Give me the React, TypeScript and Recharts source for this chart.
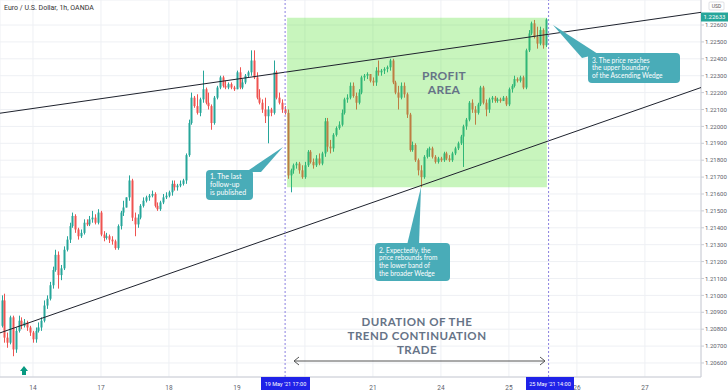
import React from 'react';
import { ComposedChart, Bar, XAxis, YAxis, CartesianGrid, ReferenceArea, ReferenceLine } from 'recharts';

// EUR/USD 1h candles, 13 May 13:00 -> 25 May 13:00 (index = hour bar)
const firstOpen = 1.2082;
const closes = [
  1.2097, 1.2075, 1.2072, 1.2087, 1.2068, 1.2079, 1.2085, 1.2082, 1.2084, 1.2081,
  1.2078, 1.2074, 1.2079, 1.2081, 1.2085, 1.2094, 1.2098, 1.2106, 1.2115, 1.2124,
  1.2112, 1.2116, 1.2127, 1.2133, 1.2141, 1.2147, 1.2139, 1.2135, 1.2137, 1.2143,
  1.2142, 1.2145, 1.2146, 1.2143, 1.2149, 1.2136, 1.2134, 1.2135, 1.2133, 1.2132,
  1.2128, 1.2141, 1.2149, 1.2152, 1.2158, 1.2168, 1.2146, 1.2142, 1.2146, 1.2153,
  1.2156, 1.2158, 1.2159, 1.2160, 1.2153, 1.2151, 1.2155, 1.2158, 1.2159, 1.2161,
  1.2166, 1.2164, 1.2165, 1.2166, 1.2168, 1.2183, 1.2202, 1.2217, 1.2212, 1.2208,
  1.2216, 1.2222, 1.2214, 1.2212, 1.2202, 1.2217, 1.2223, 1.2229, 1.2224, 1.2223,
  1.2225, 1.2223, 1.2222, 1.2232, 1.2223, 1.2226, 1.2230, 1.2232, 1.2239, 1.2229,
  1.2217, 1.2214, 1.2210, 1.2206, 1.2210, 1.2208, 1.2232, 1.2217, 1.2214, 1.2210,
  1.2208, 1.2171, 1.2174, 1.2177, 1.2178, 1.2174, 1.2170, 1.2177, 1.2185, 1.2179,
  1.2177, 1.2181, 1.2178, 1.2184, 1.2203, 1.2188, 1.2187, 1.2195, 1.2199, 1.2201,
  1.2208, 1.2216, 1.2217, 1.2224, 1.2218, 1.2214, 1.2220, 1.2229, 1.2230, 1.2231,
  1.2227, 1.2226, 1.2233, 1.2232, 1.2233, 1.2234, 1.2235, 1.2239, 1.2226, 1.2220,
  1.2217, 1.2224, 1.2219, 1.2207, 1.2186, 1.2189, 1.2180, 1.2174, 1.2170, 1.2182,
  1.2186, 1.2187, 1.2182, 1.2179, 1.2181, 1.2180, 1.2184, 1.2181, 1.2180, 1.2184,
  1.2187, 1.2190, 1.2194, 1.2200, 1.2204, 1.2214, 1.2210, 1.2208, 1.2213, 1.2223,
  1.2214, 1.2210, 1.2216, 1.2217, 1.2215, 1.2216, 1.2215, 1.2217, 1.2213, 1.2222,
  1.2224, 1.2228, 1.2227, 1.2229, 1.2223, 1.2245, 1.2255, 1.2261, 1.2253, 1.2249,
  1.2257, 1.2248, 1.22633,
];
const highs = [
  1.2100, 1.2101, 1.2078, 1.2088, 1.2088, 1.2081, 1.2088, 1.2087, 1.2086, 1.2085,
  1.2082, 1.2079, 1.2081, 1.2084, 1.2087, 1.2097, 1.2100, 1.2108, 1.2117, 1.2127,
  1.2126, 1.2118, 1.2129, 1.2135, 1.2143, 1.2149, 1.2148, 1.2140, 1.2139, 1.2145,
  1.2145, 1.2147, 1.2150, 1.2148, 1.2151, 1.2150, 1.2138, 1.2137, 1.2136, 1.2135,
  1.2133, 1.2142, 1.2150, 1.2156, 1.2158, 1.2171, 1.2169, 1.2149, 1.2148, 1.2154,
  1.2158, 1.2159, 1.2160, 1.2162, 1.2161, 1.2155, 1.2156, 1.2160, 1.2161, 1.2162,
  1.2168, 1.2168, 1.2166, 1.2168, 1.2169, 1.2184, 1.2204, 1.2220, 1.2218, 1.2219,
  1.2217, 1.2233, 1.2223, 1.2220, 1.2213, 1.2218, 1.2224, 1.2230, 1.2230, 1.2227,
  1.2226, 1.2226, 1.2224, 1.2233, 1.2235, 1.2228, 1.2231, 1.2233, 1.2245, 1.2245,
  1.2232, 1.2222, 1.2216, 1.2217, 1.2212, 1.2211, 1.2239, 1.2233, 1.2220, 1.2216,
  1.2212, 1.2210, 1.2175, 1.2178, 1.2179, 1.2179, 1.2177, 1.2179, 1.2186, 1.2186,
  1.2181, 1.2183, 1.2184, 1.2185, 1.2205, 1.2205, 1.2192, 1.2196, 1.2200, 1.2203,
  1.2210, 1.2217, 1.2219, 1.2226, 1.2226, 1.2220, 1.2222, 1.2230, 1.2231, 1.2232,
  1.2231, 1.2229, 1.2235, 1.2239, 1.2234, 1.2235, 1.2236, 1.2240, 1.2240, 1.2227,
  1.2224, 1.2226, 1.2226, 1.2220, 1.2208, 1.2191, 1.2190, 1.2181, 1.2177, 1.2183,
  1.2187, 1.2188, 1.2188, 1.2183, 1.2182, 1.2182, 1.2185, 1.2185, 1.2183, 1.2185,
  1.2188, 1.2191, 1.2195, 1.2201, 1.2205, 1.2215, 1.2216, 1.2212, 1.2214, 1.2224,
  1.2224, 1.2216, 1.2217, 1.2218, 1.2218, 1.2217, 1.2217, 1.2218, 1.2218, 1.2223,
  1.2225, 1.2230, 1.2229, 1.2230, 1.2230, 1.2246, 1.2257, 1.2262, 1.2263, 1.2259,
  1.2259, 1.2258, 1.2264,
];
const lows = [
  1.2081, 1.2072, 1.2069, 1.2071, 1.2064, 1.2066, 1.2078, 1.2080, 1.2081, 1.2079,
  1.2076, 1.2072, 1.2072, 1.2078, 1.2079, 1.2084, 1.2092, 1.2097, 1.2104, 1.2114,
  1.2104, 1.2109, 1.2115, 1.2126, 1.2131, 1.2140, 1.2137, 1.2133, 1.2134, 1.2136,
  1.2141, 1.2141, 1.2143, 1.2142, 1.2142, 1.2135, 1.2132, 1.2133, 1.2131, 1.2130,
  1.2127, 1.2127, 1.2139, 1.2147, 1.2152, 1.2156, 1.2144, 1.2135, 1.2140, 1.2145,
  1.2152, 1.2155, 1.2156, 1.2158, 1.2152, 1.2150, 1.2150, 1.2154, 1.2157, 1.2158,
  1.2159, 1.2162, 1.2162, 1.2164, 1.2165, 1.2166, 1.2182, 1.2201, 1.2211, 1.2207,
  1.2206, 1.2214, 1.2213, 1.2210, 1.2198, 1.2201, 1.2216, 1.2222, 1.2223, 1.2222,
  1.2222, 1.2222, 1.2221, 1.2222, 1.2222, 1.2222, 1.2225, 1.2229, 1.2230, 1.2228,
  1.2216, 1.2213, 1.2208, 1.2202, 1.2190, 1.2206, 1.2207, 1.2216, 1.2213, 1.2208,
  1.2207, 1.2169, 1.2161, 1.2172, 1.2175, 1.2172, 1.2169, 1.2169, 1.2176, 1.2178,
  1.2175, 1.2176, 1.2177, 1.2177, 1.2182, 1.2185, 1.2184, 1.2185, 1.2194, 1.2198,
  1.2200, 1.2207, 1.2214, 1.2216, 1.2217, 1.2210, 1.2213, 1.2219, 1.2227, 1.2228,
  1.2226, 1.2224, 1.2224, 1.2230, 1.2230, 1.2231, 1.2232, 1.2233, 1.2225, 1.2219,
  1.2210, 1.2216, 1.2217, 1.2205, 1.2185, 1.2185, 1.2179, 1.2171, 1.2164, 1.2169,
  1.2181, 1.2182, 1.2181, 1.2178, 1.2178, 1.2179, 1.2179, 1.2180, 1.2179, 1.2179,
  1.2183, 1.2186, 1.2189, 1.2176, 1.2198, 1.2203, 1.2208, 1.2201, 1.2207, 1.2212,
  1.2213, 1.2206, 1.2208, 1.2214, 1.2214, 1.2214, 1.2214, 1.2215, 1.2212, 1.2212,
  1.2220, 1.2223, 1.2226, 1.2226, 1.2222, 1.2222, 1.2244, 1.2254, 1.2252, 1.2246,
  1.2248, 1.2246, 1.2247,
];

const dayTickIndex = [11, 35, 59, 83, 107, 131, 155, 179, 203, 227];
// "20" sits under the 19 May marker box in the reference, so its label is blank
const dayTickLabels = ['14', '17', '18', '19', '', '21', '24', '25', '26', '27'];
const priceTicks = [
  1.206, 1.207, 1.208, 1.209, 1.21, 1.211, 1.212, 1.213, 1.214, 1.215, 1.216,
  1.217, 1.218, 1.219, 1.22, 1.221, 1.222, 1.223, 1.224, 1.225, 1.226,
];
const xDomain = [-0.635, 246.8];
const yDomain = [1.20517, 1.22748];
const upperWedge = [{ x: -0.635, y: 1.22078 }, { x: 246.8, y: 1.22675 }];
const lowerWedge = [{ x: -0.635, y: 1.20778 }, { x: 246.8, y: 1.2223 }];
const entryIndex = 100; // 19 May '21 17:00
const exitIndex = 193; // 25 May '21 14:00
const profitX = [100.7, 192.4];
const profitY = [1.2164, 1.22643];
const lastPrice = 1.22633;

const data = closes.map((c, i) => {
  const open = i === 0 ? firstOpen : closes[i - 1];
  return {
    i,
    open,
    close: c,
    high: Math.max(highs[i], open, c),
    low: Math.min(lows[i], open, c),
  };
});

const UP = '#26a69a';
const DOWN = '#ef5350';
const FONT = 'Roboto, "Noto Sans", sans-serif';
const W = 728;
const H = 391;
const MARGIN = { top: 0, right: 0, bottom: 0, left: 0 };

const Candle = (props: any) => {
  const { x, y, width, height, payload } = props;
  if (!payload || x == null) return null;
  const { open, close, high, low } = payload;
  const color = close >= open ? UP : DOWN;
  const top = Math.min(y, y + height);
  const h = Math.abs(height);
  const ratio = h / Math.max(high - low, 1e-9);
  const cx = Math.round(x + width / 2);
  const bTop = top + (high - Math.max(open, close)) * ratio;
  const bBot = top + (high - Math.min(open, close)) * ratio;
  return (
    <g>
      <line x1={cx + 0.5} x2={cx + 0.5} y1={top} y2={top + h} stroke={color} strokeWidth={1} />
      <rect x={cx - 0.5} y={bTop} width={2} height={Math.max(1, bBot - bTop)} fill={color} />
    </g>
  );
};

const Callout = ({ box, lines, tip, base, fs, lh, dy }: any) => (
  <g>
    <polygon points={`${base[0]},${base[1]} ${base[2]},${base[3]} ${tip[0]},${tip[1]}`} fill="#49acb8" />
    <rect x={box[0]} y={box[1]} width={box[2]} height={box[3]} rx={4} fill="#49acb8" />
    {lines.map((t: string, k: number) => (
      <text key={k} x={box[0] + 4} y={box[1] + dy + k * lh} fontSize={fs} fill="#fff" fontFamily="Lato, sans-serif">
        {t}
      </text>
    ))}
  </g>
);

const overlayXAxis = (
  <XAxis type="number" dataKey="i" domain={xDomain} allowDataOverflow height={14} tick={false} tickLine={false} axisLine={false} />
);
const overlayYAxis = (
  <YAxis orientation="right" domain={yDomain} allowDataOverflow width={27} tick={false} tickLine={false} axisLine={false} />
);

const bigText = { fontWeight: 700, fill: '#667387', textAnchor: 'middle' as const, fontFamily: 'Lato, sans-serif' };

export default function App() {
  return (
    <div style={{ position: 'absolute', left: 0, top: 0, width: W, height: H, background: '#fff', overflow: 'hidden' }}>
      <ComposedChart width={W} height={H} data={data} margin={MARGIN}>
        <CartesianGrid stroke="#eef0f4" strokeWidth={1} />
        <XAxis
          type="number"
          dataKey="i"
          domain={xDomain}
          allowDataOverflow
          ticks={dayTickIndex}
          interval={0}
          tickFormatter={(v: number) => dayTickLabels[dayTickIndex.indexOf(v)] ?? ''}
          height={14}
          tickLine={false}
          axisLine={{ stroke: '#c9ccd4' }}
          tick={{ fontSize: 6.5, fill: '#5d606b', fontFamily: FONT }}
          tickMargin={2}
        />
        <YAxis
          orientation="right"
          domain={yDomain}
          allowDataOverflow
          ticks={priceTicks}
          interval={0}
          tickFormatter={(v: number) => v.toFixed(5)}
          width={27}
          tickSize={3}
          tickMargin={1}
          tickLine={{ stroke: '#c9ccd4' }}
          axisLine={{ stroke: '#c9ccd4' }}
          tick={{ fontSize: 6, fill: '#5d606b', fontFamily: FONT, textAnchor: 'start' }}
        />
        <Bar dataKey={(d: any) => [d.low, d.high]} barSize={3} isAnimationActive={false} shape={(p: any) => <Candle {...p} />} />
      </ComposedChart>

      <div style={{ position: 'absolute', left: 0, top: 0 }}>
        <ComposedChart width={W} height={H} data={data} margin={MARGIN}>
          {overlayXAxis}
          {overlayYAxis}
          <ReferenceArea
            x1={profitX[0]}
            x2={profitX[1]}
            y1={profitY[0]}
            y2={profitY[1]}
            fill="rgb(72,222,38)"
            fillOpacity={0.3}
            stroke="none"
          />
          <ReferenceLine segment={upperWedge} stroke="#1e222d" strokeWidth={1} ifOverflow="visible" />
          <ReferenceLine segment={lowerWedge} stroke="#1e222d" strokeWidth={1} ifOverflow="visible" />
          <ReferenceLine x={entryIndex} stroke="#8a80e0" strokeDasharray="2 2" strokeWidth={1} />
          <ReferenceLine x={exitIndex} stroke="#8a80e0" strokeDasharray="2 2" strokeWidth={1} />
        </ComposedChart>
      </div>

      <svg width={W} height={H} style={{ position: 'absolute', left: 0, top: 0, pointerEvents: 'none' }}>
        <text x={4} y={10} fontSize={7} fill="#333" fontFamily={FONT}>Euro / U.S. Dollar, 1h, OANDA</text>

        <rect x={709} y={2} width={15} height={8} rx={1} fill="#fff" stroke="#c9ccd4" strokeWidth={0.6} />
        <text x={716.5} y={8} fontSize={5} fill="#555" textAnchor="middle" fontFamily={FONT}>USD</text>

        <rect x={701} y={12.5} width={27} height={9} fill={UP} />
        <text x={714.5} y={19.3} fontSize={6} fill="#fff" textAnchor="middle" fontFamily={FONT}>{lastPrice.toFixed(5)}</text>

        <text x={444} y={79.5} fontSize={12} letterSpacing={0.3} {...bigText}>PROFIT</text>
        <text x={444} y={94} fontSize={12} letterSpacing={0.3} {...bigText}>AREA</text>

        <Callout box={[206, 170, 47, 30]} lines={['1. The last', 'follow-up', 'is published']} tip={[283, 147]} base={[246, 172, 261, 172]} fs={7} lh={8.2} dy={9} />
        <Callout box={[375, 243, 75, 38]} lines={['2. Expectedly, the', 'price rebounds from', 'the lower band of', 'the broader Wedge']} tip={[421, 187]} base={[407, 245, 419, 245]} fs={6.6} lh={7.7} dy={9.5} />
        <Callout box={[588, 53, 92, 30]} lines={['3. The price reaches', 'the upper boundary', 'of the Ascending Wedge']} tip={[553, 25]} base={[582, 58, 598, 54]} fs={6.6} lh={7.7} dy={9.5} />

        <text x={417} y={325.5} fontSize={11.5} letterSpacing={0.5} {...bigText}>DURATION OF THE</text>
        <text x={417} y={339.5} fontSize={11.5} letterSpacing={0.5} {...bigText}>TREND CONTINUATION</text>
        <text x={417} y={353.5} fontSize={11.5} letterSpacing={0.5} {...bigText}>TRADE</text>

        <line x1={294} y1={361} x2={545} y2={361} stroke="#555" strokeWidth={1} />
        <polyline points="299,357 294,361 299,365" fill="none" stroke="#555" strokeWidth={1} />
        <polyline points="540,357 545,361 540,365" fill="none" stroke="#555" strokeWidth={1} />

        <polygon points="24,366 28,371 26,371 26,375 22,375 22,371 20,371" fill="#089981" />

        <rect x={261} y={377} width={49} height={13} fill="#1f22e8" />
        <text x={285.5} y={386} fontSize={5.5} fill="#fff" textAnchor="middle" fontFamily={FONT}>19 May '21   17:00</text>
        <rect x={526} y={377} width={48} height={13} fill="#1f22e8" />
        <text x={550} y={386} fontSize={5.5} fill="#fff" textAnchor="middle" fontFamily={FONT}>25 May '21   14:00</text>
      </svg>
    </div>
  );
}
